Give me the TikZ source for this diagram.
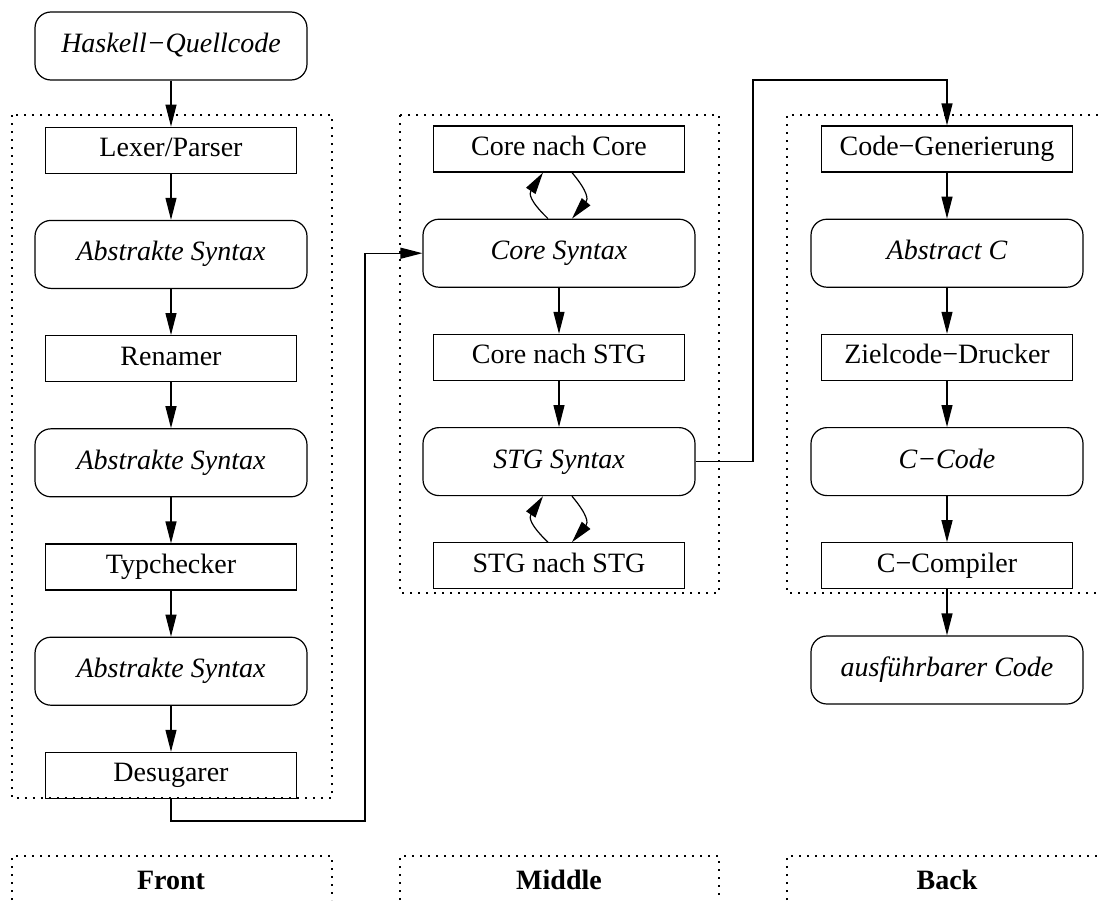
\documentclass[tikz,border=0pt]{standalone}
\usepackage{fontspec}
\setmainfont{Liberation Serif}
\usetikzlibrary{positioning, arrows.meta}
\tikzset{
  % phase/.style={
  %   draw, rectangle
  % },
  node distance=46pt,
  phase/.style={draw, rectangle, minimum width=251pt, minimum height=46pt,
    inner sep=2pt, text height=19pt, text depth=6pt},
  repr/.style={draw, rounded corners=16pt, minimum width=272pt, minimum height=68pt,
    inner sep=2pt, text height=19pt, text depth=6pt, font=\itshape},
  frame/.style={-, dash pattern=on 1.6pt off 6.4pt}
}

\begin{document}
\fontsize{28}{34}\selectfont
\begin{tikzpicture}[x=1pt, y=-1pt, -{Triangle[length=22pt,width=11pt]}, line width=1.2pt]
    \useasboundingbox (0,0) rectangle (1098,900);

    % Front
    \node[repr] (hs) at (171,46) {Haskell−Quellcode};
    \node[phase, below = of hs] (lex) {Lexer/Parser};
    \node[repr, below = of lex] (abs1) {Abstrakte Syntax};
    \node[phase, below = of abs1] (ren) {Renamer};
    \node[repr, below = of ren] (abs2) {Abstrakte Syntax};
    \node[phase, below = of abs2] (typ) {Typchecker};
    \node[repr, below = of typ] (abs3) {Abstrakte Syntax};
    \node[phase, below = of abs3] (des) {Desugarer};

    % Middle
    \node[phase] (cnc) at (559,149) {Core nach Core};
    \node[repr, below = of cnc] (core) {Core Syntax};
    \node[phase, below = of core] (cns) {Core nach STG};
    \node[repr, below = of cns] (stg) {STG Syntax};
    \node[phase, below = of stg] (sns) {STG nach STG};

    % Back
    \node[phase] (gen) at (947,149) {Code−Generierung};
    \node[repr, below = of gen] (absc) {Abstract C};
    \node[phase, below = of absc] (zcd) {Zielcode−Drucker};
    \node[repr, below = of zcd] (ccode) {C−Code};
    \node[phase, below = of ccode] (cc) {C−Compiler};
    \node[repr, below = of cc] (exe) {ausführbarer Code};

    % frames
    \draw[frame] (12,115) rectangle (332,798);
    \draw[frame] (400,115) rectangle (719,593);
    \draw[frame] (1098,115) -- (787,115) -- (787,593) -- (1098,593);
    \draw[frame] (12,900) -- (12,856) -- (332,856) -- (332,900);
    \draw[frame] (400,900) -- (400,856) -- (719,856) -- (719,900);
    \draw[frame] (787,900) -- (787,856) -- (1098,856);
    \node[font=\bfseries] (front) at (171,880) {Front};
    \node[font=\bfseries] (middle) at (559,880) {Middle};
    \node[font=\bfseries] (back) at (947,880) {Back};

    \coordinate (j1) at (365,821);
    \coordinate (j2) at (753,80);

    \draw (hs)   edge (lex)
          (lex)  edge (abs1)
          (abs1) edge (ren)
          (ren)  edge (abs2)
          (abs2) edge (typ)
          (typ)  edge (abs3)
          (abs3) edge (des);
    \draw (core) edge (cns)
          (cns)  edge (stg)
          (gen)  edge (absc)
          (absc) edge (zcd)
          (zcd)  edge (ccode)
          (ccode) edge (cc)
          (cc)   edge (exe);

    \draw ([xshift=-11pt]core.north) to[bend left=40, looseness=1.4] ([xshift=-16pt]cnc.south);
    \draw ([xshift=13pt]cnc.south) to[bend left=40, looseness=1.4] ([xshift=13pt]core.north);
    \draw ([xshift=-11pt]sns.north) to[bend left=40, looseness=1.4] ([xshift=-16pt]stg.south);
    \draw ([xshift=13pt]stg.south) to[bend left=40, looseness=1.4] ([xshift=13pt]sns.north);

    \draw (des.south) |- (j1) |- (core.west);
    \draw (stg.east) -| (j2) -| (gen.north);
\end{tikzpicture}
\end{document}
